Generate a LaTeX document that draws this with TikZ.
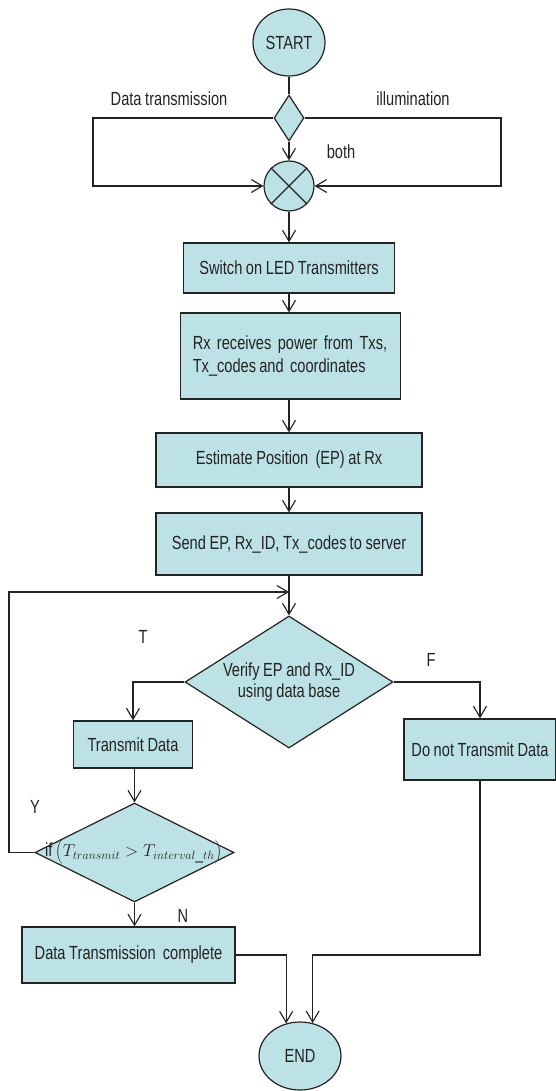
\documentclass[tikz,border=0pt]{standalone}
\usepackage{fontspec}
\setmainfont{Liberation Sans}[FakeStretch=0.77]
\usetikzlibrary{shapes.geometric,arrows.meta}
\definecolor{boxfill}{RGB}{188,226,229}
\definecolor{ink}{RGB}{35,35,35}
% body text: condensed Arial-like face with tight word spacing
\newcommand\chartfont{\fontsize{19}{23}\selectfont\spaceskip=0.19em plus 0.05em\relax}
\tikzset{
  every node/.style={font=\chartfont, text=ink},
  stepbox/.style={draw=ink, line width=1.3pt, fill=boxfill, rectangle, inner sep=0pt, align=center},
  decide/.style={draw=ink, line width=1.2pt, fill=boxfill, diamond, inner sep=0pt, align=center},
  terminal/.style={draw=ink, line width=1.2pt, fill=boxfill, ellipse, inner sep=0pt},
  link/.style={draw=ink, line width=1.15pt},
  arr/.style={link, -{Straight Barb[length=11pt, width=13pt, line width=1.15pt]}},
  tag/.style={inner sep=0pt}
}
\begin{document}
\begin{tikzpicture}[x=1pt, y=-1pt]
\useasboundingbox (0,0) rectangle (555,1091);

% terminals and junctions
\node[terminal, minimum width=72pt, minimum height=67pt] (start) at (289,42.5) {START};
\node[decide, minimum width=30pt, minimum height=46pt] (sel) at (289,118) {};
\node[draw=ink, line width=1.2pt, fill=boxfill, circle, minimum size=50pt, inner sep=0pt] (mix) at (289,186) {};
\draw[link] (mix.north west) -- (mix.south east);
\draw[link] (mix.north east) -- (mix.south west);

% process steps
\node[stepbox, minimum width=211pt, minimum height=50pt] (b1) at (289,268) {Switch on LED Transmitters};
\node[stepbox, minimum width=220.5pt, minimum height=86pt, text width=195.5pt, inner xsep=12.5pt, align=left] (b2) at (290.5,356)
  {\mbox{Rx receives power from Txs,}\\\mbox{Tx\_codes\,and coordinates}};
\node[stepbox, minimum width=266pt, minimum height=54pt] (b3) at (289,460) {Estimate Position\ \ (EP) at Rx};
\node[stepbox, minimum width=266pt, minimum height=62pt] (b4) at (289,544) {Send EP, Rx\_ID, Tx\_codes\,to server};

\node[decide, minimum width=208pt, minimum height=132pt] (verify) at (289,682)
  {\makebox[0pt]{\shortstack{Verify EP and Rx\_ID\\[1pt]using data base}}};
\node[stepbox, minimum width=118.5pt, minimum height=47pt] (tx) at (133,744.5) {Transmit Data};
\node[stepbox, minimum width=152pt, minimum height=61pt] (nt) at (480,749.5) {Do not Transmit Data};
\node[decide, minimum width=199pt, minimum height=99pt] (cond) at (134.5,852.5)
  {\makebox[0pt]{\hspace*{-2pt}if\,{\fontsize{18}{22}\selectfont$\left(T_{transmit} > T_{interval\_th}\right)$}}};
\node[stepbox, minimum width=213pt, minimum height=56pt] (dtc) at (128.5,955) {Data Transmission\ \ complete};
\node[terminal, minimum width=82pt, minimum height=68pt] (endn) at (300,1056) {END};

% branch labels
\node[tag] (lblData) at (169,99) {Data transmission};
\node[tag] (lblIllum) at (413,99) {illumination};
\node[tag] (lblBoth) at (341,152) {both};
\node[tag] (lblT) at (143,637) {T};
\node[tag] (lblF) at (431,660) {F};
\node[tag] (lblY) at (35,807) {Y};
\node[tag] (lblN) at (183,916) {N};

% route corners
\coordinate (lc) at (93,118);
\coordinate (rc) at (501,118);
\coordinate (loopL) at (9,592);
\coordinate (join) at (289,592);

% connectors
\draw[link] (start) -- (sel);
\draw[arr] (sel.west) -- (lc) |- (mix.west);
\draw[arr] (sel.east) -- (rc) |- (mix.east);
\draw[arr] (sel.south) -- (mix.north);
\draw[arr] (mix.south) -- (b1.north);
\draw[arr] (b1.south) -- (b2.north -| b1.south);
\draw[arr] (b2.south -| b1.south) -- (b3.north);
\draw[arr] (b3.south) -- (b4.north);
\draw[arr] (b4.south) -- (verify.north);
\draw[arr] (cond.west) -| (loopL) -- (join);
\draw[arr] (verify.west) -| (tx.north);
\draw[arr] (verify.east) -| (nt.north);
\draw[arr] (tx.south -| cond.north) -- (cond.north);
\draw[arr] (cond.south) -- (cond.south |- dtc.north);
\draw[arr] (dtc.east) -| (endn.113);
\draw[arr] (nt.south) |- (endn.69 |- dtc.east) -- (endn.69);
\end{tikzpicture}
\end{document}
